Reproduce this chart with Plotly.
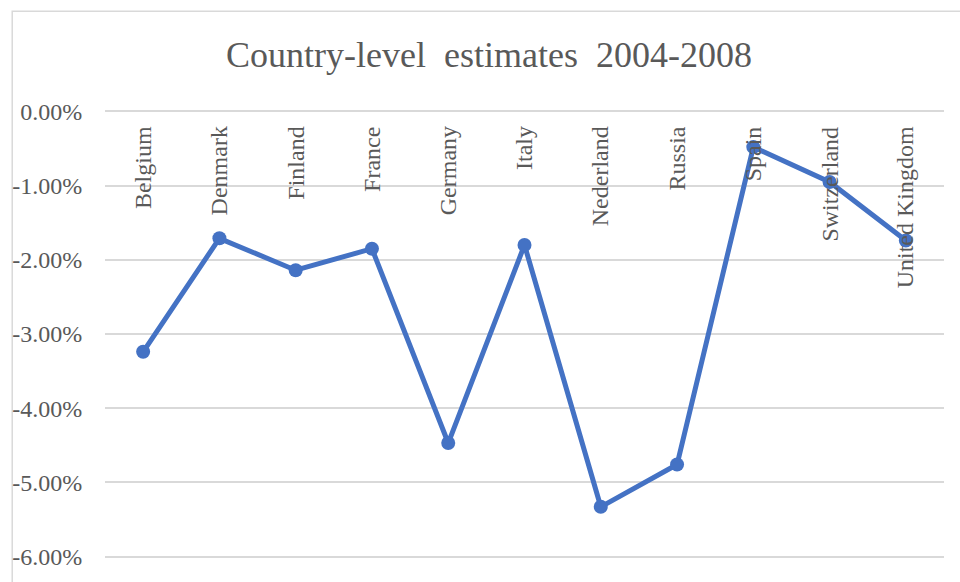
import plotly.graph_objects as go

countries = ["Belgium", "Denmark", "Finland", "France", "Germany", "Italy",
             "Nederland", "Russia", "Spain", "Switzerland", "United Kingdom"]
estimates = [-0.0324, -0.0171, -0.0214, -0.0185, -0.0447, -0.0180,
             -0.0533, -0.0476, -0.0048, -0.0095, -0.0174]
y_tickvals = [0.0, -0.01, -0.02, -0.03, -0.04, -0.05, -0.06]
y_ticktext = ["0.00%", "-1.00%", "-2.00%", "-3.00%", "-4.00%", "-5.00%", "-6.00%"]
title_text = "Country-level\u00a0 estimates\u00a0 2004-2008"

FONT = "Liberation Serif, Times New Roman, serif"
GRAY = "#595959"
GRID = "#d9d9d9"
BLUE = "#4472C4"

W, H = 960, 582
ML, MR, MT, MB = 103, 16, 110, 23
PW, PH = W - ML - MR, H - MT - MB

fig = go.Figure()
fig.add_trace(go.Scatter(
    x=countries, y=estimates, mode="lines+markers",
    line=dict(color=BLUE, width=5),
    marker=dict(color=BLUE, size=14),
    hoverinfo="skip", showlegend=False,
))

for c in countries:
    fig.add_annotation(
        x=c, y=0, xref="x", yref="y", text=c, showarrow=False,
        textangle=-90, xanchor="center", yanchor="top", yshift=-13,
        font=dict(family=FONT, size=24, color=GRAY),
    )

fig.add_shape(
    type="rect", xref="paper", yref="paper",
    x0=(10 - ML) / PW, x1=1 + 40 / PW,
    y0=-40 / PH, y1=1 + (MT - 11) / PH,
    line=dict(color=GRID, width=1.5), fillcolor="rgba(0,0,0,0)", layer="below",
)

fig.update_layout(
    width=W, height=H,
    margin=dict(l=ML, r=MR, t=MT, b=MB, pad=0),
    paper_bgcolor="white", plot_bgcolor="white",
    title=dict(text=title_text, x=489 / W, xanchor="center", xref="container",
               y=1 - 54 / H, yanchor="middle", yref="container",
               font=dict(family=FONT, size=36, color=GRAY)),
    xaxis=dict(showgrid=False, showticklabels=False, showline=False,
               zeroline=False, ticks="", range=[-0.5, len(countries) - 0.5]),
    yaxis=dict(range=[-0.0602, 0.0002], tickvals=y_tickvals, ticktext=y_ticktext,
               showgrid=True, gridcolor=GRID, gridwidth=1.5,
               zeroline=False, showline=False,
               ticks="outside", ticklen=17, tickcolor="rgba(0,0,0,0)",
               tickfont=dict(family=FONT, size=24, color=GRAY)),
)

fig.write_html("out.html")
